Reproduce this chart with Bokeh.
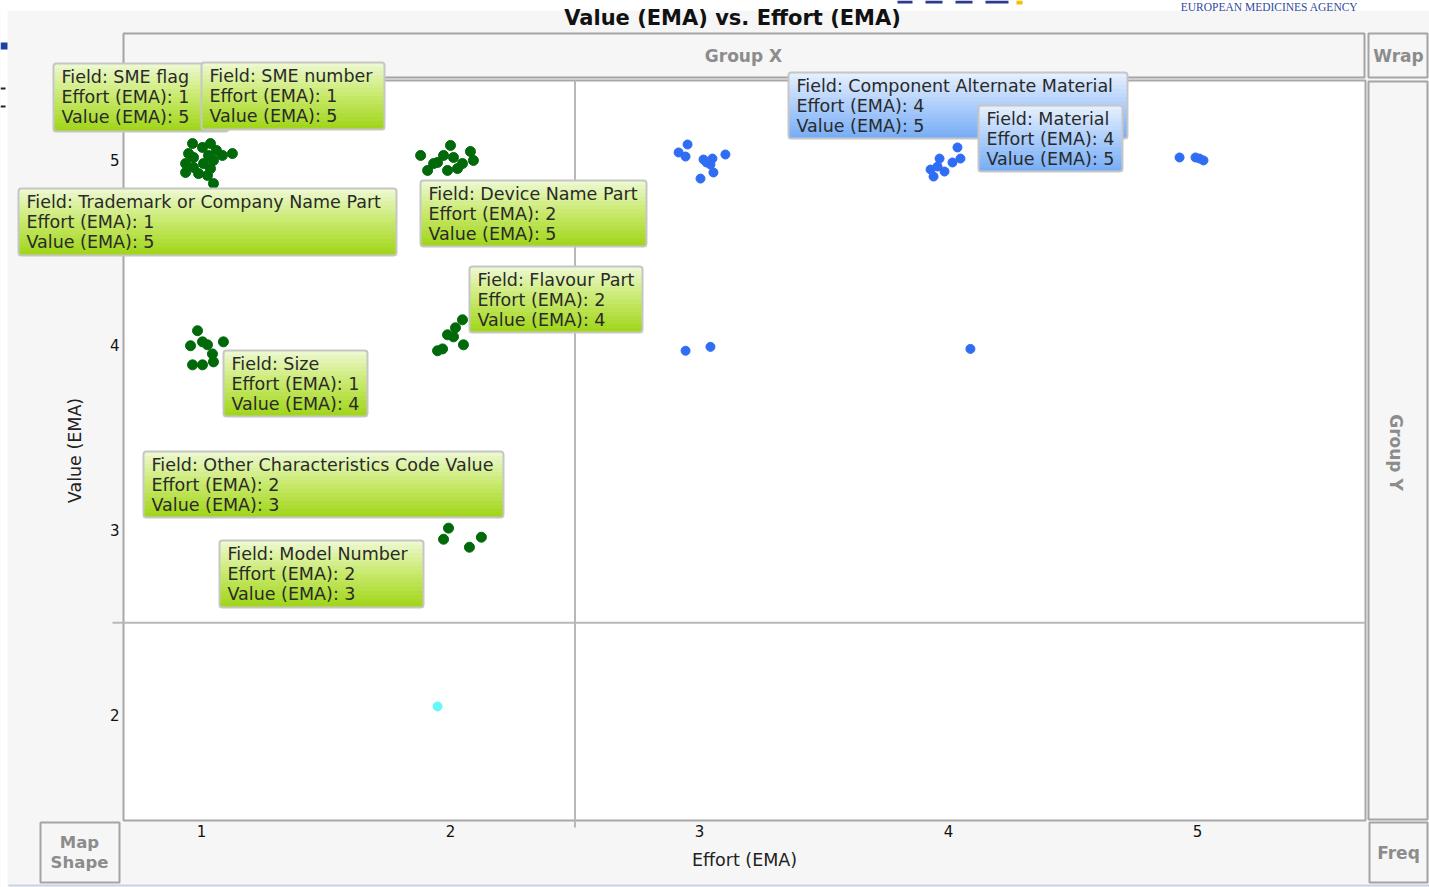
import math
from bokeh.plotting import figure
from bokeh.models import Range1d, Label, BoxAnnotation, Span, FixedTicker
from bokeh.embed import file_html
from bokeh.resources import INLINE

# ---------------- data ----------------
green_x = [0.964, 1.036, 0.948, 1.004, 1.124, 1.084, 1.048, 0.936, 0.968, 1.008,
           1.036, 0.988, 0.936, 1.024, 1.048, 1.028, 0.968, 1.060,
           1.880, 2.000, 2.080, 1.972, 2.012, 2.092, 2.048, 1.932, 1.908, 1.988,
           2.028, 1.948,
           0.984, 1.004, 0.956, 1.088, 1.044, 1.048, 0.964, 1.004, 1.024,
           2.048, 2.020, 1.988, 2.012, 2.052, 1.948, 1.968,
           1.992, 1.972, 2.124, 2.076]
green_y = [5.086, 5.086, 5.032, 5.065, 5.032, 5.022, 4.995, 4.978, 4.957, 4.978,
           4.951, 4.924, 4.930, 4.914, 4.870, 5.022, 5.011, 5.049,
           5.022, 5.076, 5.043, 5.022, 5.011, 4.995, 4.978, 4.978, 4.941, 4.941,
           4.951, 4.984,
           4.076, 4.016, 3.995, 4.016, 3.951, 3.908, 3.892, 3.892, 4.000,
           4.135, 4.092, 4.054, 4.043, 4.000, 3.968, 3.978,
           3.011, 2.951, 2.962, 2.908]

blue_x = [2.952, 2.916, 2.944, 3.016, 3.052, 3.104, 3.044, 3.056, 3.004, 3.028,
          4.036, 3.964, 4.048, 4.016, 3.928, 3.956, 3.984, 3.940,
          4.928, 4.992, 5.024, 5.008,
          2.944, 3.044, 4.088]
blue_y = [5.081, 5.038, 5.016, 5.000, 5.005, 5.027, 4.973, 4.930, 4.897, 4.984,
          5.065, 5.005, 5.005, 4.984, 4.946, 4.962, 4.935, 4.908,
          5.011, 5.011, 4.995, 5.005,
          3.968, 3.989, 3.978]

cyan_x = [1.948]
cyan_y = [2.049]

x_ticks = [1, 2, 3, 4, 5]
y_ticks = [2, 3, 4, 5]
ref_x = 2.5
ref_y = 2.5

tip_fields = ["SME flag", "SME number", "Trademark or Company Name Part",
              "Device Name Part", "Flavour Part", "Size",
              "Other Characteristics Code Value", "Model Number",
              "Component Alternate Material", "Material"]
tip_effort = [1, 1, 1, 2, 2, 1, 2, 2, 4, 4]
tip_value = [5, 5, 5, 5, 4, 4, 3, 3, 5, 5]
tip_kind = ["green"] * 8 + ["blue"] * 2

# ---------------- layout (page pixels) ----------------
tip_boxes = [(53, 63, 228, 131), (201, 62, 384, 129), (18, 188, 396, 255),
             (420, 180, 646, 246), (469, 266, 642, 332), (223, 350, 367, 416),
             (143, 451, 503, 517), (219, 540, 423, 607),
             (788, 72, 1127, 138), (978, 105, 1122, 171)]

W, H = 1429, 887
FL, FT, FW, FH = 123, 80, 1242, 740
X0, X1 = 0.6867, 5.6747
Y0, Y1 = 1.4334, 5.4263

# ---------------- main figure: data, axes ----------------
p = figure(width=W, height=H, output_backend="svg", toolbar_location=None,
           x_range=Range1d(X0, X1), y_range=Range1d(Y0, Y1),
           min_border_left=FL, min_border_right=W - FL - FW,
           min_border_top=FT, min_border_bottom=H - FT - FH)
p.border_fill_color = "#F6F6F6"
p.background_fill_color = "white"
p.outline_line_color = "#A8A8A8"
p.outline_line_width = 2
p.grid.visible = False

for ax in (p.xaxis, p.yaxis):
    ax.axis_line_color = None
    ax.major_tick_line_color = None
    ax.minor_tick_line_color = None
    ax.major_tick_out = 0
    ax.major_tick_in = 0
    ax.minor_tick_out = 0
    ax.major_label_text_font = "DejaVu Sans"
    ax.major_label_text_font_size = "15px"
    ax.major_label_text_color = "#111111"
    ax.axis_label_text_font = "DejaVu Sans"
    ax.axis_label_text_font_size = "17.5px"
    ax.axis_label_text_font_style = "normal"
    ax.axis_label_text_color = "#222222"
    ax.major_label_standoff = 4
p.xaxis.ticker = FixedTicker(ticks=x_ticks)
p.yaxis.ticker = FixedTicker(ticks=y_ticks)
p.xaxis.axis_label = "Effort (EMA)"
p.yaxis.axis_label = "Value (EMA)"
p.xaxis.axis_label_standoff = 10
p.yaxis.axis_label_standoff = 22

p.add_layout(Span(location=ref_x, dimension="height", line_color="#B8B8B8", line_width=2))
p.add_layout(Span(location=ref_y, dimension="width", line_color="#B8B8B8", line_width=2))

p.scatter(green_x, green_y, size=10, color="#006A0A")
p.scatter(blue_x, blue_y, size=9, color="#2F6DF4")
p.scatter(cyan_x, cyan_y, size=9, color="#66F8F8")

# ---------------- transparent overlay (separate root): frames, headers, tooltips ----------------
ov = figure(width=W, height=H, output_backend="svg", toolbar_location=None,
            x_range=Range1d(0, W), y_range=Range1d(H, 0), min_border=0,
            x_axis_location=None, y_axis_location=None,
            styles={"position": "absolute", "left": "0px", "top": "0px"})
ov.grid.visible = False
ov.outline_line_color = None
ov.background_fill_alpha = 0
ov.border_fill_alpha = 0


def box(l, t, r, b, fill="#F6F6F6", line="#A4A4A4", lw=2, radius=0):
    ov.add_layout(BoxAnnotation(left=l, right=r, top=t, bottom=b,
                                fill_color=fill if fill else "white",
                                fill_alpha=1 if fill else 0,
                                line_color=line if line else "white", line_width=lw,
                                line_alpha=1 if line else 0,
                                border_radius=radius, level="overlay"))


def label(text, px, py, size="15px", color="#8C8C8C", style="bold", align="center",
          angle=0.0, font="DejaVu Sans", baseline="middle"):
    ov.add_layout(Label(x=px, y=py, text=text,
                        text_font=font, text_font_size=size, text_color=color,
                        text_font_style=style, text_align=align, text_baseline=baseline,
                        angle=angle, level="overlay"))


# page surroundings (slide fragments)
box(0, 0, W, 10, fill="white", line=None, lw=0)
box(0, 0, 7, H, fill="white", line=None, lw=0)
box(0, 42, 7, 49, fill="#1C3FA6", line=None, lw=0)
box(0, 87, 5, 89, fill="#222222", line=None, lw=0)
box(0, 105, 5, 107, fill="#222222", line=None, lw=0)
box(8, 884, W, 886, fill="#C9D2E6", line=None, lw=0)
for lx, rx_ in [(897, 912), (925, 942), (955, 972), (985, 1008)]:
    box(lx, 0, rx_, 3, fill="#2B3A8F", line=None, lw=0)
box(1016, 0, 1022, 4, fill="#F2C200", line=None, lw=0)
label("EUROPEAN MEDICINES AGENCY", 1269, 6, size="11.5px", color="#2F4A9E", style="normal",
      font="Liberation Serif", baseline="alphabetic")

# reference line stubs that run past the plot frame
rx = FL + (ref_x - X0) / (X1 - X0) * FW
ry = FT + (Y1 - ref_y) / (Y1 - Y0) * FH
box(rx - 1, FT + FH, rx + 1, FT + FH + 7, fill="#B8B8B8", line=None, lw=0)
box(FL - 11, ry - 1, FL, ry + 1, fill="#B8B8B8", line=None, lw=0)

# JMP graph-builder drop zones
box(123, 33, 1364, 77)
box(1368, 33, 1427, 77)
box(1368, 81, 1427, 819)
box(40, 822, 119, 882)
box(1369, 822, 1427, 882)
label("Group X", 743, 55, size="17px")
label("Wrap", 1398, 55, size="17px")
label("Group Y", 1395, 452, size="17px", angle=-math.pi / 2)
label("Map", 79, 842, size="16.5px")
label("Shape", 79, 862, size="16.5px")
label("Freq", 1398, 852, size="17px")
label("Value (EMA) vs. Effort (EMA)", 732, 17, size="21px", color="#111111")


# tooltips with a vertical gradient
def hex2rgb(h):
    return [int(h[i:i + 2], 16) for i in (1, 3, 5)]


def grad(stops, t):
    for (t0, c0), (t1, c1) in zip(stops[:-1], stops[1:]):
        if t <= t1:
            f = (t - t0) / (t1 - t0)
            a, b = hex2rgb(c0), hex2rgb(c1)
            return "#%02x%02x%02x" % tuple(round(a[k] + (b[k] - a[k]) * f) for k in range(3))
    return stops[-1][1]


stops = {"green": [(0.0, "#EEF9D4"), (0.45, "#CBEB74"), (1.0, "#9FD416")],
         "blue": [(0.0, "#E8F1FE"), (0.45, "#B3D1FB"), (1.0, "#76ACF6")]}
fsize = {"green": "17.5px", "blue": "17.5px"}

for f, e, v, k, (l, t, r, b) in zip(tip_fields, tip_effort, tip_value, tip_kind, tip_boxes):
    n = 16
    h = (b - t) / n
    for i in range(n):
        c = grad(stops[k], (i + 0.5) / n)
        top = t + i * h
        box(l, top, r, min(b, top + h + 1), fill=c, line=None, lw=0)
    box(l, t, r, b, fill=None, line="#C6C6C6", lw=2, radius=3)
    for j, line_text in enumerate([f"Field: {f}", f"Effort (EMA): {e}", f"Value (EMA): {v}"]):
        label(line_text, l + 8, t + 13 + 20 * j, size=fsize[k], color="#2A2A2A",
              style="normal", align="left")

open("out.html", "w").write(file_html([p, ov], INLINE))
